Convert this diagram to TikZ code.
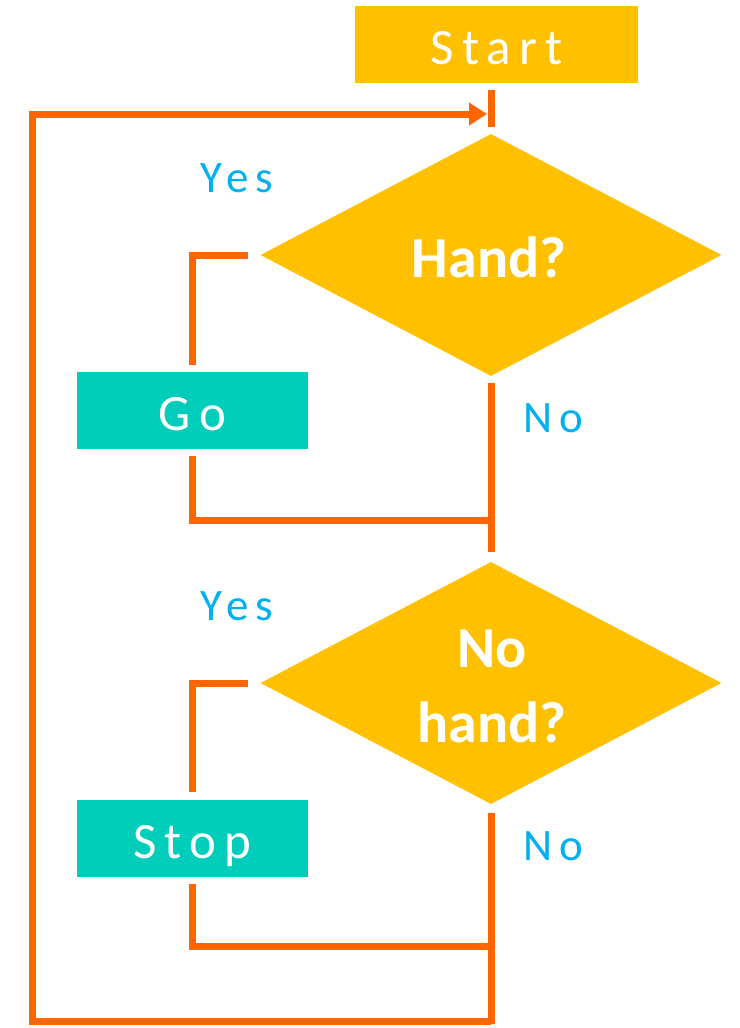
\documentclass[tikz,border=0pt]{standalone}
\usepackage{fontspec}
\setmainfont{Carlito}
\newfontfamily\spaced{Carlito}[LetterSpace=16]
\usetikzlibrary{shapes.geometric,arrows.meta}
\definecolor{amber}{HTML}{FFC000}
\definecolor{teal2}{HTML}{00CEBB}
\definecolor{flow}{HTML}{FF6600}
\definecolor{sky}{HTML}{00B0F0}
\begin{document}
\begin{tikzpicture}[x=1pt,y=-1pt,
  boxstyle/.style={rectangle,inner sep=0pt,text=white,
    text height=40pt,text depth=0pt,
    font=\spaced\fontsize{51}{60}\selectfont},
  startbox/.style={boxstyle,fill=amber,minimum width=283pt,minimum height=77pt},
  actbox/.style={boxstyle,fill=teal2,minimum width=231pt,minimum height=77pt},
  decision/.style={diamond,aspect=2,inner sep=0pt,fill=amber,
    minimum width=461pt,minimum height=242pt},
  question/.style={text=white,inner sep=0pt,align=center,
    font=\bfseries\fontsize{58}{75}\selectfont},
  answer/.style={text=sky,inner sep=0pt,font=\spaced\fontsize{45}{54}\selectfont},
  wire/.style={draw=flow,line width=7pt},
]
\useasboundingbox (0,0) rectangle (739,1028);

% shapes
\node[startbox] (start) at (496.5,44.5) {Start};
\node[decision] (d1) at (491,255) {};
\node[actbox] (go) at (192.5,410.5) {Go};
\node[decision] (d2) at (491,683) {};
\node[actbox] (stop) at (192.5,838) {Stop};

% questions inside the diamonds
\node[question,anchor=base] (q1) at (489,277) {Hand?};
\node[question] (q2) at (492,686.5) {No\\hand?};

% branch labels
\node[answer] (yes1) at (237,178) {Yes};
\node[answer] (no1) at (553,418) {No};
\node[answer] (yes2) at (237,606) {Yes};
\node[answer] (no2) at (553,846) {No};

% junction points
\coordinate (top) at (491,127);
\coordinate (entry) at (487,114);
\coordinate (j1) at (491,552);
\coordinate (m1) at (491,520);
\coordinate (j2) at (491,1024);
\coordinate (m2) at (491,946);
\coordinate (base) at (491,1021);
\coordinate (corner) at (32,1021);

% connectors
\draw[wire,shorten <=7pt] (start.south -| top) -- (top);
\draw[wire,shorten <=7pt] (d1.south) -- (j1);
\draw[wire,shorten <=9pt] (d2.south) -- (j2);
\draw[wire,shorten <=7pt,shorten >=12pt] (go.north) |- (d1.west);
\draw[wire,shorten <=7pt,shorten >=12pt] (stop.north) |- (d2.west);
\draw[wire,shorten <=7pt] (go.south) |- (m1);
\draw[wire,shorten <=7pt] (stop.south) |- (m2);
\draw[wire,-{Triangle[length=18pt,width=22pt]}] (base) -- (corner) |- (entry);
\end{tikzpicture}
\end{document}
